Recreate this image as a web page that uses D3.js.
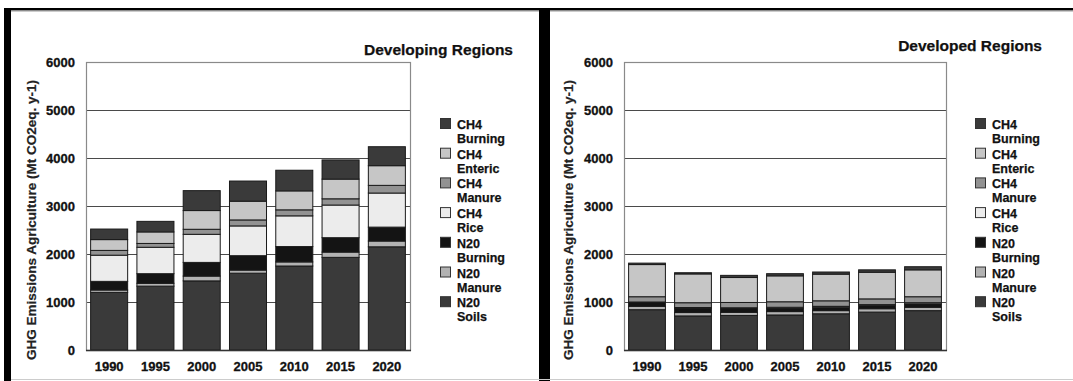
<!DOCTYPE html>
<html>
<head>
<meta charset="utf-8">
<script src="https://d3js.org/d3.v7.min.js"></script>
</head>
<body>
<script type="text/javascript">
// categories / series
var years = ["1990", "1995", "2000", "2005", "2010", "2015", "2020"];
var seriesNames = ["N20 Soils", "N20 Manure", "N20 Burning", "CH4 Rice", "CH4 Manure", "CH4 Enteric", "CH4 Burning"];
var yTicks = [0, 1000, 2000, 3000, 4000, 5000, 6000];

// Developing regions (Mt CO2eq / y)
var devgN2OSoils   = [1200, 1330, 1440, 1600, 1750, 1930, 2150];
var devgN2OManure  = [50, 60, 100, 65, 85, 110, 120];
var devgN2OBurning = [180, 200, 285, 300, 320, 300, 290];
var devgCH4Rice    = [545, 550, 585, 620, 640, 680, 710];
var devgCH4Manure  = [100, 80, 105, 125, 125, 130, 160];
var devgCH4Enteric = [225, 240, 390, 390, 395, 410, 410];
var devgCH4Burning = [220, 220, 415, 420, 430, 400, 395];

// Developed regions
var devdN2OSoils   = [840, 710, 720, 730, 755, 790, 820];
var devdN2OManure  = [70, 70, 65, 70, 65, 70, 70];
var devdN2OBurning = [80, 85, 75, 65, 70, 70, 70];
var devdCH4Rice    = [10, 20, 20, 25, 20, 15, 25];
var devdCH4Manure  = [110, 100, 110, 115, 115, 120, 125];
var devdCH4Enteric = [670, 600, 520, 540, 555, 555, 560];
var devdCH4Burning = [30, 25, 45, 45, 45, 50, 65];

var fills = {
  "N20 Soils": "#3a3a3a",
  "N20 Manure": "#b2b2b2",
  "N20 Burning": "#141414",
  "CH4 Rice": "#ececec",
  "CH4 Manure": "#929292",
  "CH4 Enteric": "#c6c6c6",
  "CH4 Burning": "#3a3a3a"
};

function buildRows(cols) {
  return years.map(function(yr, i) {
    var row = {year: yr};
    seriesNames.forEach(function(s, k) { row[s] = cols[k][i]; });
    return row;
  });
}

var W = 1073, H = 381;
var svg = d3.select("body").append("svg")
  .attr("width", W)
  .attr("height", H)
  .style("display", "block")
  .style("background", "#fff");

// frame
svg.append("rect").attr("x", 4).attr("y", 8).attr("width", W - 4).attr("height", 2.5).attr("fill", "#000");
svg.append("rect").attr("x", 4).attr("y", 10.5).attr("width", W - 4).attr("height", 1).attr("fill", "#999");
svg.append("rect").attr("x", 4).attr("y", 8).attr("width", 7).attr("height", H - 8).attr("fill", "#000");
svg.append("rect").attr("x", 539).attr("y", 8).attr("width", 11).attr("height", H - 8).attr("fill", "#000");
svg.append("rect").attr("x", 11).attr("y", 379).attr("width", W - 11).attr("height", 1).attr("fill", "#ccc");

function drawPanel(opt) {
  var rows = buildRows(opt.cols);
  var x = d3.scaleBand().domain(years).range([opt.left, opt.right]).paddingInner(0.2).paddingOuter(0.1);
  var y = d3.scaleLinear().domain([0, 6000]).range([350, 62]);
  var g = svg.append("g");

  // grid lines
  g.selectAll(".grid").data(yTicks.slice(1, 6)).enter().append("line")
    .attr("x1", opt.left).attr("x2", opt.right)
    .attr("y1", function(d) { return y(d) + 0.5; })
    .attr("y2", function(d) { return y(d) + 0.5; })
    .attr("stroke", "#4a4a4a").attr("stroke-width", 1.2);

  // plot border
  g.append("rect")
    .attr("x", opt.left + 0.5).attr("y", y(6000) + 0.5)
    .attr("width", opt.right - opt.left).attr("height", y(0) - y(6000))
    .attr("fill", "none").attr("stroke", "#8a8a8a").attr("stroke-width", 1.2);

  var stack = d3.stack().keys(seriesNames)(rows);
  g.selectAll(".layer").data(stack).enter().append("g")
    .attr("fill", function(d) { return fills[d.key]; })
    .selectAll("rect").data(function(d) { return d; }).enter().append("rect")
    .attr("x", function(d) { return x(d.data.year); })
    .attr("width", x.bandwidth())
    .attr("y", function(d) { return y(d[1]); })
    .attr("height", function(d) { return y(d[0]) - y(d[1]); })
    .attr("stroke", "#1a1a1a")
    .attr("stroke-width", 1);

  // x axis baseline
  g.append("line")
    .attr("x1", opt.left).attr("x2", opt.right + 1)
    .attr("y1", y(0) + 0.5).attr("y2", y(0) + 0.5)
    .attr("stroke", "#333").attr("stroke-width", 1.5);

  // tick labels
  g.selectAll(".ytl").data(yTicks).enter().append("text")
    .attr("x", opt.left - 11)
    .attr("y", function(d) { return y(d); })
    .attr("dy", "0.36em")
    .attr("text-anchor", "end")
    .attr("class", "lbl")
    .text(function(d) { return d; });

  g.selectAll(".xtl").data(years).enter().append("text")
    .attr("x", function(d) { return x(d) + x.bandwidth() / 2; })
    .attr("y", 371)
    .attr("text-anchor", "middle")
    .attr("class", "lbl")
    .text(function(d) { return d; });

  // axis title
  g.append("text")
    .attr("transform", "translate(" + opt.titleX + ",220) rotate(-90)")
    .attr("dy", "0.35em")
    .attr("text-anchor", "middle")
    .attr("class", "axt")
    .text("GHG Emissions Agriculture (Mt CO2eq. y-1)");

  // panel title
  g.append("text")
    .attr("x", opt.headX).attr("y", opt.headY)
    .attr("text-anchor", "end")
    .attr("class", "head")
    .text(opt.head);

  // legend
  var legendNames = seriesNames.slice().reverse();
  var lg = g.selectAll(".leg").data(legendNames).enter().append("g")
    .attr("transform", function(d, i) { return "translate(" + opt.legX + "," + (124 + i * 29.7) + ")"; });
  lg.append("rect")
    .attr("x", 0.5).attr("y", -5.5).attr("width", 10).attr("height", 10)
    .attr("fill", function(d) { return fills[d]; })
    .attr("stroke", "#333");
  lg.append("text")
    .attr("x", 17).attr("y", 5)
    .attr("class", "leg")
    .text(function(d) { return d.split(" ")[0]; });
  lg.append("text")
    .attr("x", 17).attr("y", 19)
    .attr("class", "leg")
    .text(function(d) { return d.split(" ")[1]; });
}

drawPanel({
  cols: [devgN2OSoils, devgN2OManure, devgN2OBurning, devgCH4Rice, devgCH4Manure, devgCH4Enteric, devgCH4Burning],
  left: 86, right: 410, titleX: 31, headX: 513, headY: 55, head: "Developing Regions", legX: 440
});
drawPanel({
  cols: [devdN2OSoils, devdN2OManure, devdN2OBurning, devdCH4Rice, devdCH4Manure, devdCH4Enteric, devdCH4Burning],
  left: 624, right: 946, titleX: 568, headX: 1042, headY: 51, head: "Developed Regions", legX: 975
});
</script>
<style>
  body { margin: 0; background: #fff; }
  .lbl { font: bold 13px "Liberation Sans", Arial, sans-serif; fill: #111; stroke: #111; stroke-width: 0.3px; }
  .leg { font: bold 12.5px "Liberation Sans", Arial, sans-serif; fill: #111; stroke: #111; stroke-width: 0.25px; }
  .axt { font: bold 13.5px "Liberation Sans", Arial, sans-serif; fill: #222; stroke: #222; stroke-width: 0.2px; }
  .head { font: bold 15.5px "Liberation Sans", Arial, sans-serif; fill: #111; stroke: #111; stroke-width: 0.25px; }
</style>
</body>
</html>
